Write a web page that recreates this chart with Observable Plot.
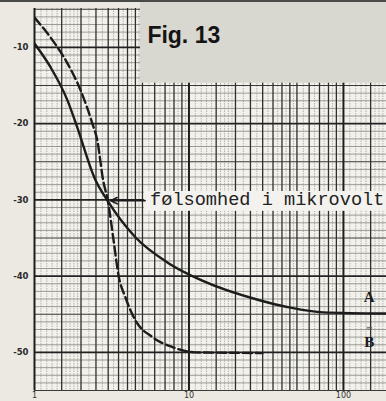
<!DOCTYPE html>
<html>
<head>
<meta charset="utf-8">
<script src="https://cdn.jsdelivr.net/npm/d3@7"></script>
<script src="https://cdn.jsdelivr.net/npm/@observablehq/plot@0.6"></script>
<style>
  html, body { margin: 0; padding: 0; background: #ebe9e2; }
  #wrap { position: relative; width: 386px; height: 401px; overflow: hidden; }
  #topedge { position: absolute; left: 0; top: 0; width: 386px; height: 2px; background: #4a4a48; }
</style>
</head>
<body>
<div id="wrap"><div id="chart"></div><div id="topedge"></div></div>
<script>
// ---- data ----
// curve A (solid)
const curveAx = [1, 1.27, 1.635, 1.87, 2.48, 2.99, 4.5, 7.37, 12.2, 29.0, 44.5, 74, 190];
const curveAy = [-9.5, -12.6, -16.95, -20.2, -27.4, -30.2, -34.9, -38.3, -40.6, -43.2, -44.1, -44.75, -44.9];
// curve B (dashed)
const curveBx = [1, 1.27, 1.635, 1.985, 2.37, 2.55, 2.78, 2.99, 3.25, 3.5, 3.88, 4.5, 5.8, 7.81, 11.0, 18.5, 29.9];
const curveBy = [-6.1, -8.7, -12.1, -15.6, -20.0, -22.2, -27.4, -30.2, -35.3, -39.9, -42.8, -45.8, -48.0, -49.3, -50.0, -50.05, -50.1];
// tick labels
const xTicks = [1, 10, 100];
const yTicks = [-10, -20, -30, -40, -50];
// texts
const figTitle = "Fig. 13";
const annotation = "følsomhed i mikrovolt";
const seriesLabels = ["A", "B"];

// ---- log-paper grid positions ----
const xMajor = [1, 10, 100];
const xMedium = [1.5, 2, 2.5, 3, 3.5, 4, 4.5, 5, 6, 7, 8, 9,
                 15, 20, 25, 30, 35, 40, 45, 50, 60, 70, 80, 90, 150];
const xFine = [];
for (const dec of [1, 10, 100]) {
  for (const v of d3.range(1.1, 2, 0.1)) if (Math.abs(v - 1.5) > 1e-6) xFine.push(v * dec);
  for (const v of d3.range(2.25, 5, 0.25)) if (Math.abs((v * 2) - Math.round(v * 2)) > 1e-6) xFine.push(v * dec);
  for (const v of d3.range(5.5, 10, 1)) xFine.push(v * dec);
}
const xFineIn = xFine.filter(v => v <= 190);
const yMajor = [-10, -20, -30, -40, -50];
const yMid = [-5, -15, -25, -35, -45, -55];
const yMinor = d3.range(-55, -4, 1).filter(v => v % 5 !== 0);

const A = curveAx.map((x, i) => ({x, y: curveAy[i]}));
const B = curveBx.map((x, i) => ({x, y: curveBy[i]}));

const ink = "#1c1c1c";

const chart = Plot.plot({
  width: 386,
  height: 401,
  marginLeft: 34,
  marginRight: 0,
  marginTop: 8,
  marginBottom: 11,
  style: {background: "transparent", fontFamily: "DejaVu Sans"},
  x: {type: "log", domain: [1, 190]},
  y: {domain: [-55, -4.9]},
  marks: [
    Plot.frame({fill: "#f2f1eb", stroke: "none"}),
    // grid
    Plot.ruleX(xFineIn, {stroke: "#9a9a96", strokeWidth: 0.7, strokeDasharray: "1.5,1"}),
    Plot.ruleY(yMinor, {stroke: "#777773", strokeWidth: 0.7}),
    Plot.ruleY(yMid, {stroke: "#3a3a38", strokeWidth: 1}),
    Plot.ruleX(xMedium, {stroke: "#2e2e2c", strokeWidth: 1.3}),
    Plot.ruleY(yMajor, {stroke: "#222", strokeWidth: 1.7}),
    Plot.ruleX(xMajor, {stroke: "#1e1e1e", strokeWidth: 2}),
    // pasted label panel
    Plot.rect([0], {x1: 4.85, x2: 190, y1: -14.7, y2: -3.85, fill: "#d8d7d0"}),
    Plot.text([figTitle], {x: 5.38, y: -9.48, text: d => d, textAnchor: "start", lineAnchor: "bottom",
      fontSize: 23, fontWeight: "bold", fontFamily: "Liberation Sans", fill: "#141414"}),
    // curves
    Plot.line(A, {x: "x", y: "y", stroke: ink, strokeWidth: 2.4, curve: "monotone-x", clip: true}),
    Plot.line(B, {x: "x", y: "y", stroke: ink, strokeWidth: 2.4, strokeDasharray: "9,4", curve: "monotone-x", clip: true}),
    // annotation band, text and arrow
    Plot.rect([0], {x1: 5.14, x2: 190, y1: -31.5, y2: -28.9, fill: "#f3f2ee"}),
    Plot.text([annotation], {x: 5.6, y: -29.9, text: d => d, textAnchor: "start",
      fontSize: 18.6, fontFamily: "Liberation Mono", fill: "#222"}),
    Plot.arrow([0], {x1: 5.2, y1: -30.1, x2: 3.1, y2: -30.1, stroke: ink, strokeWidth: 1.6, headLength: 7, headAngle: 50}),
    // series labels
    Plot.text([seriesLabels[0]], {x: 147, y: -42.8, text: d => d, fontSize: 15, fontWeight: "bold",
      fontFamily: "Liberation Serif", fill: ink}),
    Plot.text(["≈"], {x: 147, y: -46.85, text: d => d, fontSize: 9, fill: "#555"}),
    Plot.text([seriesLabels[1]], {x: 147, y: -48.7, text: d => d, fontSize: 15, fontWeight: "bold",
      fontFamily: "Liberation Serif", fill: ink}),
    // axes
    Plot.axisY(yTicks, {tickSize: 0, tickPadding: 6, fontSize: 8.5, fontWeight: "bold",
      fill: "#2a2a2a", tickFormat: d => "-" + Math.abs(d), label: null}),
    Plot.axisX(xTicks, {tickSize: 0, tickPadding: 2, fontSize: 8, fill: "#333",
      tickFormat: d => String(d), label: null})
  ]
});
document.getElementById("chart").appendChild(chart);
</script>
</body>
</html>
